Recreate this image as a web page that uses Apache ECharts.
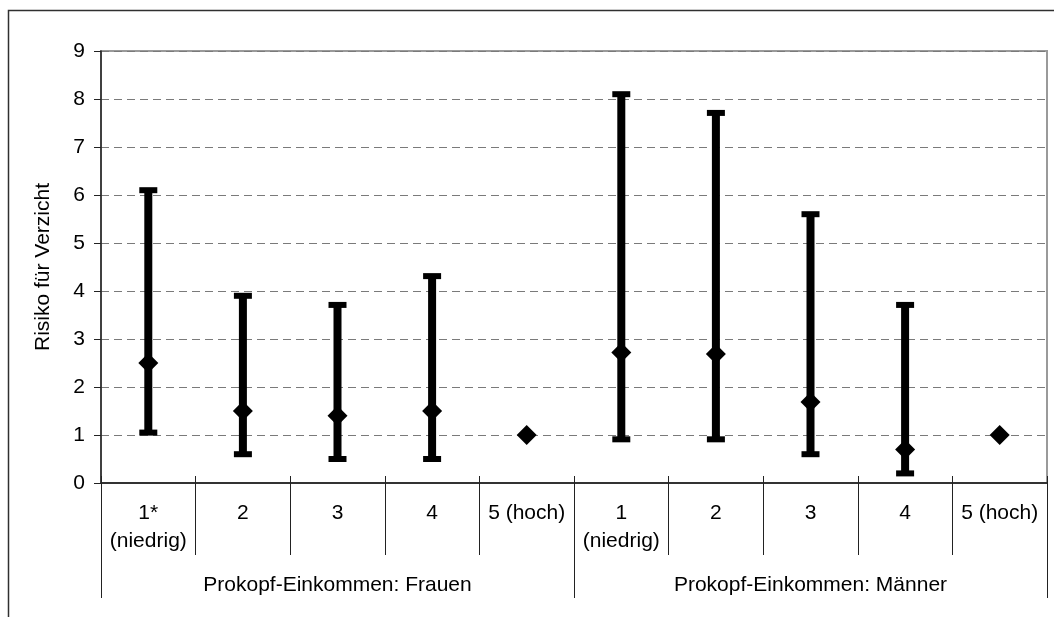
<!DOCTYPE html>
<html>
<head>
<meta charset="utf-8">
<script src="https://cdn.jsdelivr.net/npm/echarts@6/dist/echarts.min.js"></script>
<style>
html,body{margin:0;padding:0;background:#fff;}
#chart{width:1054px;height:617px;}
</style>
</head>
<body>
<div id="chart"></div>
<script>
const categories = ['1*\n(niedrig)', '2', '3', '4', '5 (hoch)', '1\n(niedrig)', '2', '3', '4', '5 (hoch)'];
const groups = ['Prokopf-Einkommen: Frauen', 'Prokopf-Einkommen: Männer'];
const estimate = [2.5, 1.5, 1.4, 1.5, 1.0, 2.72, 2.69, 1.69, 0.70, 1.0];
const lower = [1.05, 0.6, 0.5, 0.5, null, 0.91, 0.91, 0.6, 0.2, null];
const upper = [6.1, 3.9, 3.71, 4.31, null, 8.1, 7.71, 5.6, 3.71, null];
const yTicks = [0, 1, 2, 3, 4, 5, 6, 7, 8, 9];
const yName = 'Risiko für Verzicht';

const FONT = 'Arial, "Liberation Sans", sans-serif';
const FS = 21;

const barData = [];
lower.forEach((lo, i) => { if (lo != null) barData.push([i, lo, upper[i]]); });
const pointData = estimate.map((v, i) => [i, v]);

const chart = echarts.init(document.getElementById('chart'), null, {renderer: 'canvas'});
chart.setOption({
  animation: false,
  backgroundColor: '#fff',
  textStyle: {fontFamily: FONT, color: '#000'},
  graphic: [{
    type: 'rect', z: -10,
    shape: {x: 8.5, y: 10.5, width: 1200, height: 800},
    style: {fill: 'none', stroke: '#303030', lineWidth: 1.5}
  }],
  grid: {
    left: 101, top: 51, right: 7, bottom: 134,
    show: true, borderColor: '#9a9a9a', borderWidth: 2, backgroundColor: 'transparent'
  },
  xAxis: [{
    type: 'category', data: categories, position: 'bottom', offset: 0,
    axisLine: {show: true, lineStyle: {color: '#333', width: 2}},
    axisTick: {show: true, length: 72, lineStyle: {color: '#222', width: 1}},
    axisLabel: {fontFamily: FONT, fontSize: FS, color: '#000', lineHeight: 28, margin: 16, interval: 0},
    splitLine: {show: false}
  }, {
    type: 'category', data: categories, position: 'bottom', offset: 0,
    axisLine: {show: false},
    axisTick: {show: true, inside: true, length: 7, lineStyle: {color: '#222', width: 1}},
    axisLabel: {show: false},
    splitLine: {show: false}
  }, {
    type: 'category', data: groups, position: 'bottom', offset: 0,
    axisLine: {show: false},
    axisTick: {show: true, length: 115, lineStyle: {color: '#222', width: 1}},
    axisLabel: {fontFamily: FONT, fontSize: FS, color: '#000', lineHeight: 28, margin: 88, interval: 0},
    splitLine: {show: false}
  }],
  yAxis: {
    type: 'value', min: yTicks[0], max: yTicks[yTicks.length - 1], interval: 1,
    name: yName, nameLocation: 'middle', nameGap: 47, nameRotate: 90,
    nameTextStyle: {fontFamily: FONT, fontSize: FS, color: '#000'},
    axisLine: {show: true, lineStyle: {color: '#222', width: 1.5}},
    axisTick: {show: true, length: 7, lineStyle: {color: '#222', width: 1}},
    axisLabel: {fontFamily: FONT, fontSize: FS, color: '#000', margin: 16},
    splitLine: {show: true, lineStyle: {color: '#7a7a7a', width: 1.2, type: [8, 5]}}
  },
  series: [{
    type: 'custom',
    xAxisIndex: 0, yAxisIndex: 0,
    data: barData,
    renderItem: function (params, api) {
      const lo = api.coord([api.value(0), api.value(1)]);
      const hi = api.coord([api.value(0), api.value(2)]);
      const x = lo[0];
      return {
        type: 'group',
        children: [
          {type: 'line', shape: {x1: x, y1: lo[1], x2: x, y2: hi[1]}, style: {stroke: '#000', lineWidth: 8}},
          {type: 'rect', shape: {x: x - 9, y: hi[1] - 3, width: 18, height: 6}, style: {fill: '#000'}},
          {type: 'rect', shape: {x: x - 9, y: lo[1] - 3, width: 18, height: 6}, style: {fill: '#000'}}
        ]
      };
    },
    z: 3
  }, {
    type: 'scatter',
    xAxisIndex: 0, yAxisIndex: 0,
    data: pointData,
    symbol: 'diamond', symbolSize: 20,
    itemStyle: {color: '#000', opacity: 1},
    z: 4
  }]
});
</script>
</body>
</html>
